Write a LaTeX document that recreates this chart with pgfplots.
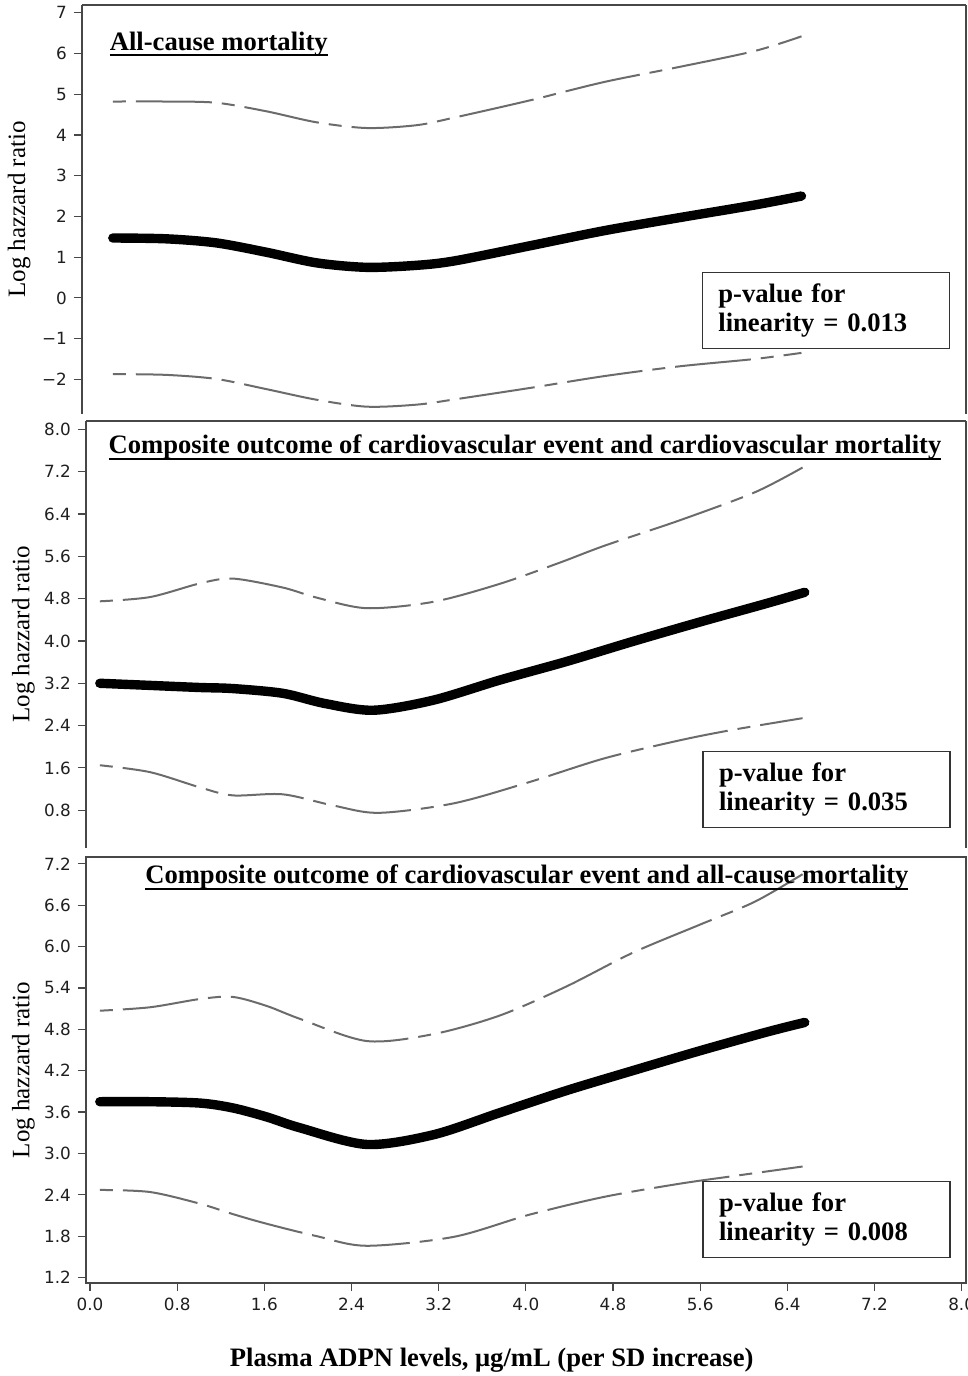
\documentclass[border=0pt]{standalone}
\usepackage{pgfplots}
\pgfplotsset{compat=1.18}
\usepackage{fontspec}
\setmainfont{Liberation Serif}
\newfontfamily\ticksf{DejaVu Sans}
\newcommand{\ulin}[1]{\setbox0\hbox{#1}\leavevmode\rlap{\copy0}\raisebox{-3pt}{\rule{\wd0}{0.9pt}}}
\pgfplotsset{
  panel/.style={
    scale only axis, clip=false,
    axis line style={black!72, line width=0.7pt},
    tick style={black!72, line width=0.6pt},
    tick align=outside, major tick length=4pt,
    tick label style={font=\ticksf\fontsize{8.4}{10}\selectfont, black!88},
    ylabel={Log hazzard ratio},
    ylabel style={font=\fontsize{12.5}{14}\selectfont, at={(axis description cs:-0.071,0.5)}, anchor=center},
  },
}
\tikzset{
  ci/.style={black!58, line width=1pt, smooth, dash pattern=on 6.5pt off 5pt on 38pt off 5pt},
  est/.style={black, line width=4.7pt, smooth, line cap=round, line join=round},
  pbox/.style={draw=black!80, line width=0.6pt, minimum width=123.5pt, minimum height=38pt, align=left, text width=107.5pt, inner xsep=8pt, font=\bfseries\fontsize{13.3}{14.5}\selectfont},
  ttl/.style={font=\bfseries\fontsize{13.3}{15}\selectfont},
}
\begin{document}
\begin{tikzpicture}
\path[use as bounding box] (0,0) rectangle (484pt,688pt);
% Panel 1
\begin{axis}[panel, at={(41pt,685.5pt)}, anchor=north west,
  width=442pt, height=204.5pt,
  xmin=-0.073, xmax=8.04, ymin=-2.85, ymax=7.19,
  axis x line*=top, axis y line*=left,
  xtick=\empty,
  ytick={-2,-1,0,1,2,3,4,5,6,7},
  yticklabels={−2,−1,0,1,2,3,4,5,6,7}]
\addplot[ci] coordinates {(0.21,4.82)(0.70,4.82)(1.16,4.79)(1.62,4.58)(2.08,4.31)(2.54,4.17)(3.00,4.24)(3.35,4.43)(4.04,4.85)(4.72,5.30)(5.41,5.67)(6.10,6.06)(6.53,6.42)};
\addplot[est] coordinates {(0.21,1.47)(0.70,1.45)(1.16,1.35)(1.62,1.12)(2.08,0.86)(2.54,0.75)(3.00,0.80)(3.35,0.91)(4.04,1.28)(4.72,1.65)(5.41,1.97)(6.10,2.28)(6.53,2.50)};
\addplot[ci] coordinates {(0.21,-1.87)(0.70,-1.89)(1.16,-1.99)(1.62,-2.24)(2.08,-2.50)(2.54,-2.67)(3.00,-2.62)(3.35,-2.49)(4.04,-2.21)(4.72,-1.92)(5.41,-1.68)(6.10,-1.50)(6.53,-1.35)};
\draw[black!72, line width=0.7pt] (rel axis cs:1,0) -- (rel axis cs:1,1);
\node[ttl, anchor=west] at (rel axis cs:0.0235,0.905) {\ulin{All-cause mortality}};
\node[pbox] at (rel axis cs:0.8415,0.254) {p-value for\\linearity = 0.013};
\end{axis}
% Panel 2
\begin{axis}[panel, at={(43pt,477.5pt)}, anchor=north west,
  width=440pt, height=213.5pt,
  xmin=-0.037, xmax=8.04, ymin=0.085, ymax=8.16,
  axis x line*=top, axis y line*=left,
  xtick=\empty,
  ytick={0.8,1.6,2.4,3.2,4.0,4.8,5.6,6.4,7.2,8.0},
  yticklabels={0.8,1.6,2.4,3.2,4.0,4.8,5.6,6.4,7.2,8.0}]
\addplot[ci] coordinates {(0.09,4.75)(0.55,4.83)(1.01,5.09)(1.31,5.18)(1.77,5.01)(2.08,4.82)(2.54,4.62)(3.15,4.74)(3.76,5.08)(4.31,5.48)(4.72,5.80)(5.41,6.28)(6.10,6.81)(6.54,7.28)};
\addplot[est] coordinates {(0.09,3.20)(0.55,3.16)(1.01,3.12)(1.31,3.10)(1.77,3.01)(2.15,2.82)(2.60,2.69)(3.15,2.88)(3.76,3.26)(4.37,3.61)(4.98,3.99)(5.60,4.36)(6.21,4.71)(6.56,4.92)};
\addplot[ci] coordinates {(0.09,1.65)(0.55,1.52)(1.01,1.23)(1.31,1.08)(1.77,1.10)(2.23,0.89)(2.65,0.75)(3.34,0.93)(4.03,1.33)(4.72,1.78)(5.41,2.12)(5.90,2.32)(6.54,2.54)};
\draw[black!72, line width=0.7pt] (rel axis cs:1,0) -- (rel axis cs:1,1);
\node[ttl] at (rel axis cs:0.4989,0.938) {\ulin{Composite outcome of cardiovascular event and cardiovascular mortality}};
\node[pbox] at (rel axis cs:0.8415,0.137) {p-value for\\linearity = 0.035};
\end{axis}
% Panel 3
\begin{axis}[panel, at={(43pt,259.5pt)}, anchor=north west,
  width=440pt, height=213pt,
  xmin=-0.037, xmax=8.04, ymin=1.12, ymax=7.30,
  xtick pos=left, ytick pos=left,
  xtick={0,0.8,1.6,2.4,3.2,4.0,4.8,5.6,6.4,7.2,8.0},
  xticklabels={0.0,0.8,1.6,2.4,3.2,4.0,4.8,5.6,6.4,7.2,8.0},
  ytick={1.2,1.8,2.4,3.0,3.6,4.2,4.8,5.4,6.0,6.6,7.2},
  yticklabels={1.2,1.8,2.4,3.0,3.6,4.2,4.8,5.4,6.0,6.6,7.2},
  xlabel={Plasma ADPN levels, μg/mL (per SD increase)},
  xlabel style={font=\bfseries\fontsize{13.3}{15}\selectfont, at={(axis description cs:0.461,-0.181)}, anchor=center}]
\addplot[ci] coordinates {(0.09,5.07)(0.55,5.12)(1.01,5.24)(1.31,5.27)(1.62,5.14)(1.93,4.95)(2.54,4.63)(3.15,4.73)(3.76,5.00)(4.37,5.42)(4.98,5.91)(5.60,6.32)(6.10,6.65)(6.54,7.05)};
\addplot[est] coordinates {(0.09,3.75)(0.55,3.75)(1.01,3.73)(1.31,3.66)(1.62,3.53)(1.93,3.37)(2.54,3.13)(3.15,3.27)(3.76,3.59)(4.37,3.91)(4.98,4.20)(5.60,4.49)(6.21,4.76)(6.56,4.90)};
\addplot[ci] coordinates {(0.09,2.47)(0.55,2.44)(1.01,2.27)(1.31,2.12)(1.62,1.98)(2.08,1.80)(2.54,1.66)(3.34,1.79)(4.03,2.11)(4.72,2.37)(5.41,2.56)(5.90,2.67)(6.54,2.81)};
\node[ttl] at (rel axis cs:0.501,0.952) {\ulin{Composite outcome of cardiovascular event and all-cause mortality}};
\node[pbox] at (rel axis cs:0.8415,0.150) {p-value for\\linearity = 0.008};
\end{axis}
\end{tikzpicture}
\end{document}
